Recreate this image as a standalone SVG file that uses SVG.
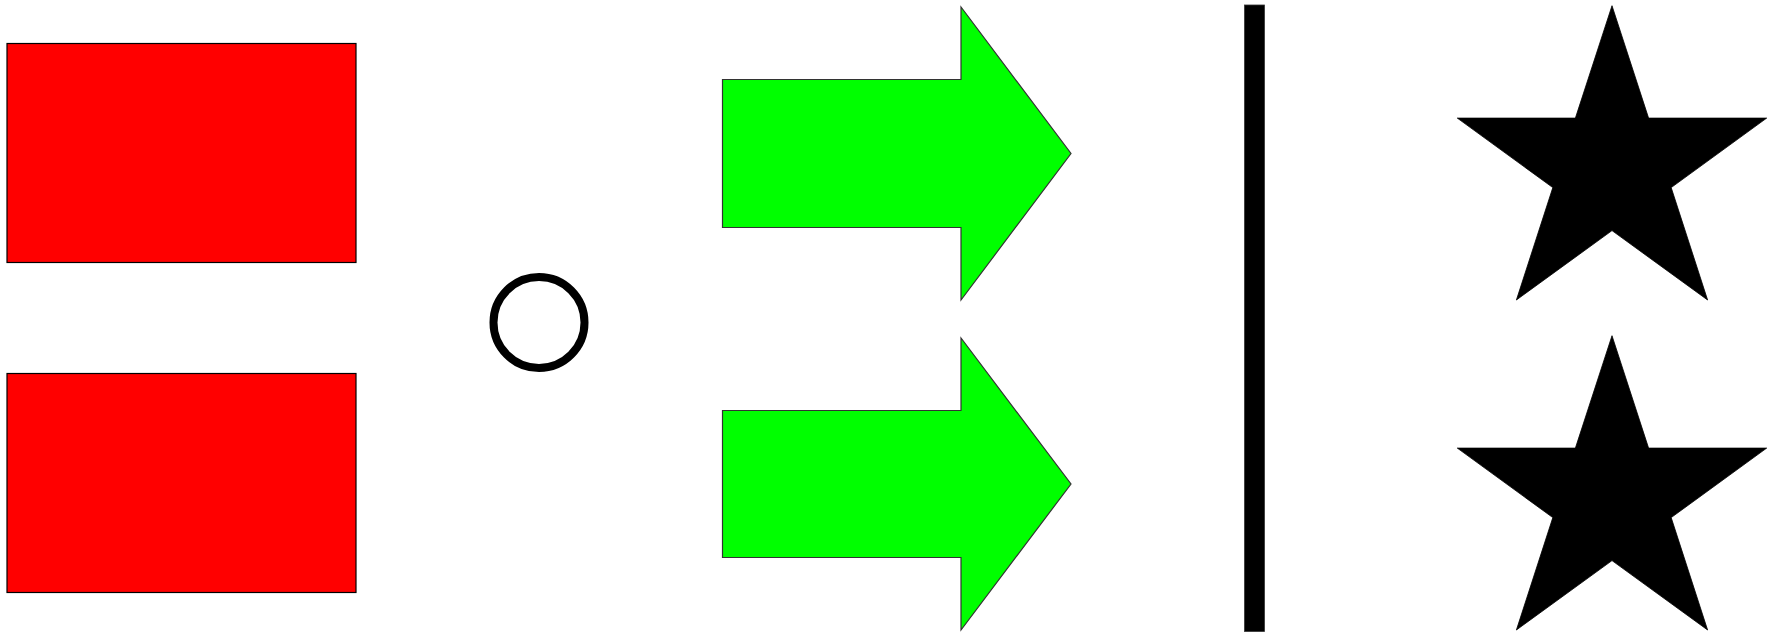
<svg xmlns="http://www.w3.org/2000/svg" width="1779" height="634" viewBox="0 0 1779 634">
<defs>
<style>
.box{fill:#ff0000;stroke:#000;stroke-width:1.2}
.arrow{fill:#00ff00;stroke:#333;stroke-width:1.2;stroke-linejoin:miter}
.star{fill:#000;stroke:#000;stroke-width:0.8}
.ring{fill:#fff;stroke:#000;stroke-width:8}
.bar{fill:#000;stroke:#333;stroke-width:0.8}
</style>
<polygon id="starShape" class="star" points="1612,5.7 1648.6,118.1 1766.7,118.1 1671.2,187.6 1707.6,300 1612,230.6 1516.4,300 1552.8,187.6 1457.3,118.1 1575.4,118.1"/>
</defs>
<rect width="1779" height="634" fill="#fff"/>
<g id="rect1"><rect class="box" x="7" y="43.5" width="349" height="219"/></g>
<g id="rect2"><rect class="box" x="7" y="373.5" width="349" height="219"/></g>
<g id="circle1"><circle class="ring" cx="539" cy="322.5" r="45.5"/></g>
<g id="arrow1"><path class="arrow" d="M722.5,79.5 H961 V7 L1071,153.5 L961,300 V227.5 H722.5 Z"/></g>
<g id="arrow2"><path class="arrow" d="M722.5,410.5 H961 V338 L1071,484 L961,630 V557.5 H722.5 Z"/></g>
<g id="bar1"><rect class="bar" x="1244.5" y="5" width="20" height="626.5"/></g>
<g id="star1"><use href="#starShape"/></g>
<g id="star2"><use href="#starShape" transform="translate(0,330)"/></g>
<g id="connectors"></g>
</svg>
